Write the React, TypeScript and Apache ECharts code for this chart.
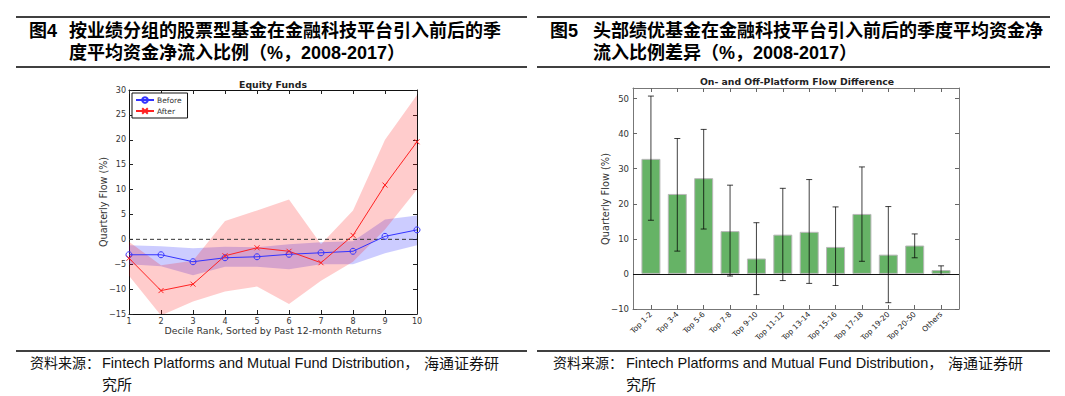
import React, { useEffect, useRef } from "react";
import * as echarts from "echarts";

// ---------- Left chart data (Equity Funds) ----------
const deciles = [1, 2, 3, 4, 5, 6, 7, 8, 9, 10];
const beforeFlow = [-3.1, -3.1, -4.5, -3.7, -3.5, -3.0, -2.7, -2.4, 0.6, 1.9];
const beforeLow = [-5.0, -5.4, -7.2, -5.5, -5.5, -6.0, -5.0, -5.0, -2.8, -1.2];
const beforeHigh = [-1.2, -1.4, -1.8, -1.5, -1.6, -1.0, -0.6, -0.4, 4.0, 4.8];
const afterFlow = [-3.8, -10.3, -9.0, -3.3, -1.7, -2.4, -4.7, 0.8, 10.9, 19.6];
const afterLow = [-7.3, -15.3, -12.5, -10.5, -9.5, -13.0, -8.3, -4.5, 2.0, 10.0];
const afterHigh = [-0.5, -5.2, -4.3, 3.7, 5.8, 8.0, -1.0, 5.8, 20.0, 29.0];

// ---------- Right chart data (flow difference) ----------
const groups = [
  "Top 1-2", "Top 3-4", "Top 5-6", "Top 7-8", "Top 9-10", "Top 11-12",
  "Top 13-14", "Top 15-16", "Top 17-18", "Top 19-20", "Top 20-50", "Others",
];
const flowDiff = [32.8, 22.8, 27.3, 12.2, 4.4, 11.2, 12.0, 7.7, 17.1, 5.5, 8.1, 1.1];
const errLow = [15.3, 6.5, 12.8, -0.6, -5.9, -1.9, -2.7, -3.3, 3.6, -8.2, 4.6, -0.2];
const errHigh = [50.7, 38.6, 41.2, 25.3, 14.6, 24.4, 26.9, 19.1, 30.5, 19.2, 11.4, 2.3];
const rightYTicks = [-10, 0, 10, 20, 30, 40, 50];

const CJK = '"Liberation Sans", "Noto Sans CJK SC", sans-serif';
const MPL = '"DejaVu Sans", sans-serif';

const tickStyle = { show: true, inside: true, length: 4, lineStyle: { color: "#222", width: 1 } };

export default function App() {
  const ref = useRef<HTMLDivElement>(null);

  useEffect(() => {
    if (!ref.current) return;
    const chart = echarts.init(ref.current, undefined, { renderer: "svg" });

    const xMark = "path://M0,0L10,10M10,0L0,10";

    const leftX = (pos: "bottom" | "top") => ({
      gridIndex: 0,
      type: "value",
      position: pos,
      min: 1,
      max: 10,
      interval: 1,
      axisLine: { show: true, onZero: false, lineStyle: { color: "#111", width: 1 } },
      axisTick: tickStyle,
      axisLabel: {
        show: pos === "bottom",
        fontFamily: MPL,
        fontSize: 8,
        color: "#333",
        margin: 3,
      },
      splitLine: { show: false },
    });
    const leftY = (pos: "left" | "right") => ({
      gridIndex: 0,
      type: "value",
      position: pos,
      min: -15,
      max: 30,
      interval: 5,
      axisLine: { show: true, onZero: false, lineStyle: { color: "#111", width: 1 } },
      axisTick: tickStyle,
      axisLabel: {
        show: pos === "left",
        fontFamily: MPL,
        fontSize: 8,
        color: "#333",
        margin: 3,
        formatter: (v: number) => (v < 0 ? "\u2212" + Math.abs(v) : String(v)),
      },
      splitLine: { show: false },
    });

    const rTick = { ...tickStyle, lineStyle: { color: "#666", width: 1 } };
    const rightX = (pos: "bottom" | "top") => ({
      gridIndex: 1,
      type: "value",
      position: pos,
      min: -0.68,
      max: 11.68,
      axisLine: { show: true, onZero: false, lineStyle: { color: "#777", width: 1 } },
      axisTick: { ...rTick, customValues: groups.map((_, i) => i) },
      axisLabel: {
        show: pos === "bottom",
        customValues: groups.map((_, i) => i),
        formatter: (v: number) => groups[Math.round(v)] ?? "",
        rotate: 45,
        fontFamily: MPL,
        fontSize: 7.5,
        color: "#222",
        margin: 4,
      },
      splitLine: { show: false },
    });
    const rightY = (pos: "left" | "right") => ({
      gridIndex: 1,
      type: "value",
      position: pos,
      min: -10,
      max: 53,
      axisLine: { show: true, onZero: false, lineStyle: { color: "#777", width: 1 } },
      axisTick: { ...rTick, customValues: rightYTicks },
      axisLabel: {
        show: pos === "left",
        customValues: rightYTicks,
        fontFamily: MPL,
        fontSize: 8.5,
        color: "#333",
        margin: 4,
        formatter: (v: number) => (v < 0 ? "\u2212" + Math.abs(v) : String(v)),
      },
      splitLine: { show: false },
    });

    const band = (name: string, low: number[], high: number[], color: string) => ({
      name,
      type: "custom",
      xAxisIndex: 0,
      yAxisIndex: 0,
      clip: true,
      silent: true,
      data: deciles.map((d, i) => [d, low[i], high[i]]),
      encode: { x: 0, y: [1, 2] },
      renderItem: (params: any, api: any) => {
        if (params.dataIndex !== 0) return null;
        const pts: number[][] = [];
        deciles.forEach((d, i) => pts.push(api.coord([d, low[i]])));
        for (let i = deciles.length - 1; i >= 0; i--) pts.push(api.coord([deciles[i], high[i]]));
        return { type: "polygon", shape: { points: pts }, style: { fill: color } };
      },
      z: 1,
    });

    const ruleStyle = { stroke: "#000", lineWidth: 1.5 };
    const hdr = `bold 18px ${CJK}`;
    const src = `14px ${CJK}`;
    const srcEn = `14.5px ${CJK}`;
    const srcZh = `15px ${CJK}`;

    const option: any = {
      animation: false,
      grid: [
        { left: 129, top: 90, width: 288, height: 224 },
        { left: 633, top: 88, width: 326, height: 221 },
      ],
      xAxis: [leftX("bottom"), leftX("top"), rightX("bottom"), rightX("top")],
      yAxis: [leftY("left"), leftY("right"), rightY("left"), rightY("right")],
      legend: {
        data: ["Before", "After"],
        orient: "vertical",
        left: 132,
        top: 93,
        padding: [3, 6, 3, 3],
        itemGap: 3,
        itemWidth: 18,
        itemHeight: 7,
        borderColor: "#111",
        borderWidth: 1,
        backgroundColor: "#fff",
        textStyle: { fontFamily: MPL, fontSize: 7.5, color: "#333", padding: [0, 0, 0, -2] },
        z: 10,
      },
      series: [
        band("beforeBand", beforeLow, beforeHigh, "rgba(0,0,255,0.2)"),
        band("afterBand", afterLow, afterHigh, "rgba(255,0,0,0.2)"),
        {
          name: "zero",
          type: "line",
          xAxisIndex: 0,
          yAxisIndex: 0,
          data: [[1, 0], [10, 0]],
          symbol: "none",
          lineStyle: { color: "#333", width: 1, type: [4, 3] },
          silent: true,
          z: 2,
        },
        {
          name: "Before",
          type: "line",
          xAxisIndex: 0,
          yAxisIndex: 0,
          data: deciles.map((d, i) => [d, beforeFlow[i]]),
          symbol: "circle",
          symbolSize: 6,
          showAllSymbol: true,
          itemStyle: { color: "rgba(255,255,255,0)", borderColor: "#3333ff", borderWidth: 1 },
          lineStyle: { color: "#3333ff", width: 1 },
          z: 3,
        },
        {
          name: "After",
          type: "line",
          xAxisIndex: 0,
          yAxisIndex: 0,
          data: deciles.map((d, i) => [d, afterFlow[i]]),
          symbol: xMark,
          symbolSize: 5,
          showAllSymbol: true,
          itemStyle: { color: "rgba(255,255,255,0)", borderColor: "#ff2222", borderWidth: 1 },
          lineStyle: { color: "#ff2222", width: 1 },
          z: 3,
        },
        {
          name: "diff",
          type: "bar",
          xAxisIndex: 2,
          yAxisIndex: 2,
          data: groups.map((_, i) => [i, flowDiff[i]]),
          barWidth: 19,
          itemStyle: { color: "#66b366", borderColor: "#b8b8b8", borderWidth: 1 },
          markLine: {
            silent: true,
            symbol: "none",
            label: { show: false },
            lineStyle: { color: "#111", width: 1, type: "solid" },
            data: [{ yAxis: 0 }],
          },
          z: 2,
        },
        {
          name: "err",
          type: "custom",
          xAxisIndex: 2,
          yAxisIndex: 2,
          data: groups.map((_, i) => [i, errLow[i], errHigh[i]]),
          encode: { x: 0, y: [1, 2] },
          renderItem: (params: any, api: any) => {
            const x = api.value(0);
            const p1 = api.coord([x, api.value(1)]);
            const p2 = api.coord([x, api.value(2)]);
            const st = { stroke: "rgba(0,0,0,0.75)", lineWidth: 1 };
            const c = 3;
            return {
              type: "group",
              children: [
                { type: "line", shape: { x1: p1[0], y1: p1[1], x2: p2[0], y2: p2[1] }, style: st },
                { type: "line", shape: { x1: p1[0] - c, y1: p1[1], x2: p1[0] + c, y2: p1[1] }, style: st },
                { type: "line", shape: { x1: p2[0] - c, y1: p2[1], x2: p2[0] + c, y2: p2[1] }, style: st },
              ],
            };
          },
          z: 4,
        },
      ],
      graphic: [
        // header and source rules
        { type: "line", shape: { x1: 16, y1: 17, x2: 527, y2: 17 }, style: ruleStyle },
        { type: "line", shape: { x1: 16, y1: 67, x2: 527, y2: 67 }, style: ruleStyle },
        { type: "line", shape: { x1: 537, y1: 17, x2: 1050, y2: 17 }, style: ruleStyle },
        { type: "line", shape: { x1: 537, y1: 67, x2: 1050, y2: 67 }, style: ruleStyle },
        { type: "line", shape: { x1: 16, y1: 351, x2: 527, y2: 351 }, style: ruleStyle },
        { type: "line", shape: { x1: 537, y1: 351, x2: 1050, y2: 351 }, style: ruleStyle },
        // header titles
        { type: "text", x: 29, y: 31, style: { text: "图4", font: hdr, fill: "#000", verticalAlign: "middle" } },
        { type: "text", x: 69, y: 31, style: { text: "按业绩分组的股票型基金在金融科技平台引入前后的季", font: hdr, fill: "#000", verticalAlign: "middle" } },
        { type: "text", x: 69, y: 53, style: { text: "度平均资金净流入比例（%，2008-2017）", font: hdr, fill: "#000", verticalAlign: "middle" } },
        { type: "text", x: 550, y: 31, style: { text: "图5", font: hdr, fill: "#000", verticalAlign: "middle" } },
        { type: "text", x: 593, y: 31, style: { text: "头部绩优基金在金融科技平台引入前后的季度平均资金净", font: hdr, fill: "#000", verticalAlign: "middle" } },
        { type: "text", x: 593, y: 53, style: { text: "流入比例差异（%，2008-2017）", font: hdr, fill: "#000", verticalAlign: "middle" } },
        // sources
        { type: "text", x: 30, y: 363, style: { text: "资料来源：", font: src, fill: "#111", verticalAlign: "middle" } },
        { type: "text", x: 102, y: 363, style: { text: "Fintech Platforms and Mutual Fund Distribution，", font: srcEn, fill: "#111", verticalAlign: "middle" } },
        { type: "text", x: 424, y: 363, style: { text: "海通证券研", font: srcZh, fill: "#111", verticalAlign: "middle" } },
        { type: "text", x: 102, y: 384, style: { text: "究所", font: srcZh, fill: "#111", verticalAlign: "middle" } },
        { type: "text", x: 553, y: 363, style: { text: "资料来源：", font: src, fill: "#111", verticalAlign: "middle" } },
        { type: "text", x: 626, y: 363, style: { text: "Fintech Platforms and Mutual Fund Distribution，", font: srcEn, fill: "#111", verticalAlign: "middle" } },
        { type: "text", x: 948, y: 363, style: { text: "海通证券研", font: srcZh, fill: "#111", verticalAlign: "middle" } },
        { type: "text", x: 626, y: 384, style: { text: "究所", font: srcZh, fill: "#111", verticalAlign: "middle" } },
        // chart titles and axis names
        { type: "text", x: 273, y: 84, style: { text: "Equity Funds", font: `bold 9.3px ${MPL}`, fill: "#222", align: "center", verticalAlign: "middle" } },
        { type: "text", x: 273, y: 330, style: { text: "Decile Rank, Sorted by Past 12-month Returns", font: `9.4px ${MPL}`, fill: "#333", align: "center", verticalAlign: "middle" } },
        { type: "text", x: 103, y: 202, rotation: Math.PI / 2, style: { text: "Quarterly Flow (%)", font: `9.6px ${MPL}`, fill: "#333", align: "center", verticalAlign: "middle" } },
        { type: "text", x: 797, y: 81, style: { text: "On- and Off-Platform Flow Difference", font: `bold 9.3px ${MPL}`, fill: "#222", align: "center", verticalAlign: "middle" } },
        { type: "text", x: 605, y: 199, rotation: Math.PI / 2, style: { text: "Quarterly Flow (%)", font: `9.8px ${MPL}`, fill: "#333", align: "center", verticalAlign: "middle" } },
      ],
    };

    chart.setOption(option);
    return () => chart.dispose();
  }, []);

  return (
    <div
      ref={ref}
      style={{ position: "absolute", left: 0, top: 0, width: 1065, height: 396, background: "#fff" }}
    />
  );
}
